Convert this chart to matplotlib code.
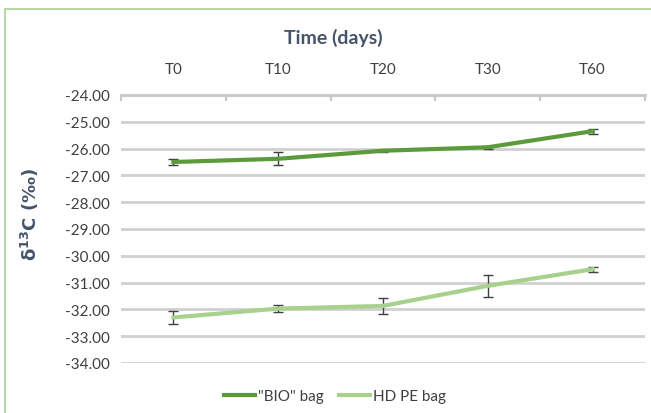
import numpy as np
import matplotlib.pyplot as plt
from matplotlib.patches import Rectangle
from matplotlib.lines import Line2D

# data
categories = ["T0", "T10", "T20", "T30", "T60"]
bio_values = [-26.50, -26.38, -26.08, -25.95, -25.35]
bio_err = [0.10, 0.25, 0.03, 0.05, 0.10]
hdpe_values = [-32.30, -31.97, -31.87, -31.12, -30.50]
hdpe_err = [0.25, 0.12, 0.30, 0.40, 0.10]
yticks = np.arange(-34, -23, 1)

BIO_COL = "#5b9b3c"
HDPE_COL = "#a9d18e"

plt.rcParams['font.family'] = ['Lato', 'DejaVu Sans']

W, H = 651, 414
fig = plt.figure(figsize=(W / 100, H / 100), dpi=100)
# thin green frame around the chart
fig.patches.append(Rectangle((5 / W, -0.1), 1.1, 1 - 10 / H + 0.1, transform=fig.transFigure,
                             fill=False, edgecolor=HDPE_COL, linewidth=1.2))

left, right, top, bottom = 121, 645, 96, 364
ax = fig.add_axes([left / W, 1 - bottom / H, (right - left) / W, (bottom - top) / H])

x = np.arange(len(categories))
ax.errorbar(x, bio_values, yerr=bio_err, color=BIO_COL, linewidth=3, ecolor="#404040",
            elinewidth=1, capsize=3.5, capthick=1, zorder=3)
ax.errorbar(x, hdpe_values, yerr=hdpe_err, color=HDPE_COL, linewidth=3, ecolor="#404040",
            elinewidth=1, capsize=3.5, capthick=1, zorder=3)

ax.set_xlim(-0.5, len(categories) - 0.5)
ax.set_ylim(-34, -24)
ax.set_yticks(yticks)
ax.set_yticklabels([f"{v:.2f}" for v in yticks])
ax.yaxis.grid(True, color="#d0d0d0", linewidth=2)
ax.set_axisbelow(True)

ax.xaxis.tick_top()
ax.set_xticks(x)
ax.set_xticklabels(categories)
ax.set_xticks(np.arange(-0.5, len(categories)), minor=True)
ax.tick_params(axis="x", which="major", length=0, pad=14, labelsize=11, labelcolor="#404040")
ax.tick_params(axis="x", which="minor", length=4, width=1.5, color="#c8c8c8", direction="in")
ax.tick_params(axis="y", length=0, pad=8, labelsize=11, labelcolor="#404040")

for s in ["left", "right", "bottom"]:
    ax.spines[s].set_visible(False)
ax.spines["top"].set_color("#c8c8c8")
ax.spines["top"].set_linewidth(2)

fig.text(333 / W, 1 - 38 / H, "Time (days)", ha="center", va="center",
         fontsize=14, fontweight="bold", color="#44546a")
fig.text(30 / W, 1 - 215 / H, r"δ$^{\mathbf{13}}$C (‰)", ha="center", va="center", rotation=90,
         fontsize=13, fontweight="bold", color="#44546a", family=["DejaVu Sans"])

handles = [Line2D([], [], color=BIO_COL, linewidth=3),
           Line2D([], [], color=HDPE_COL, linewidth=3)]
leg = fig.legend(handles, ['"BIO" bag', "HD PE bag"], loc="center",
                 bbox_to_anchor=(335 / W, 1 - 397 / H), ncol=2, frameon=False,
                 fontsize=11, handlelength=2.0, columnspacing=1.0, handletextpad=0.2)
for t in leg.get_texts():
    t.set_color("#404040")

fig.savefig("out.png", dpi=100)
